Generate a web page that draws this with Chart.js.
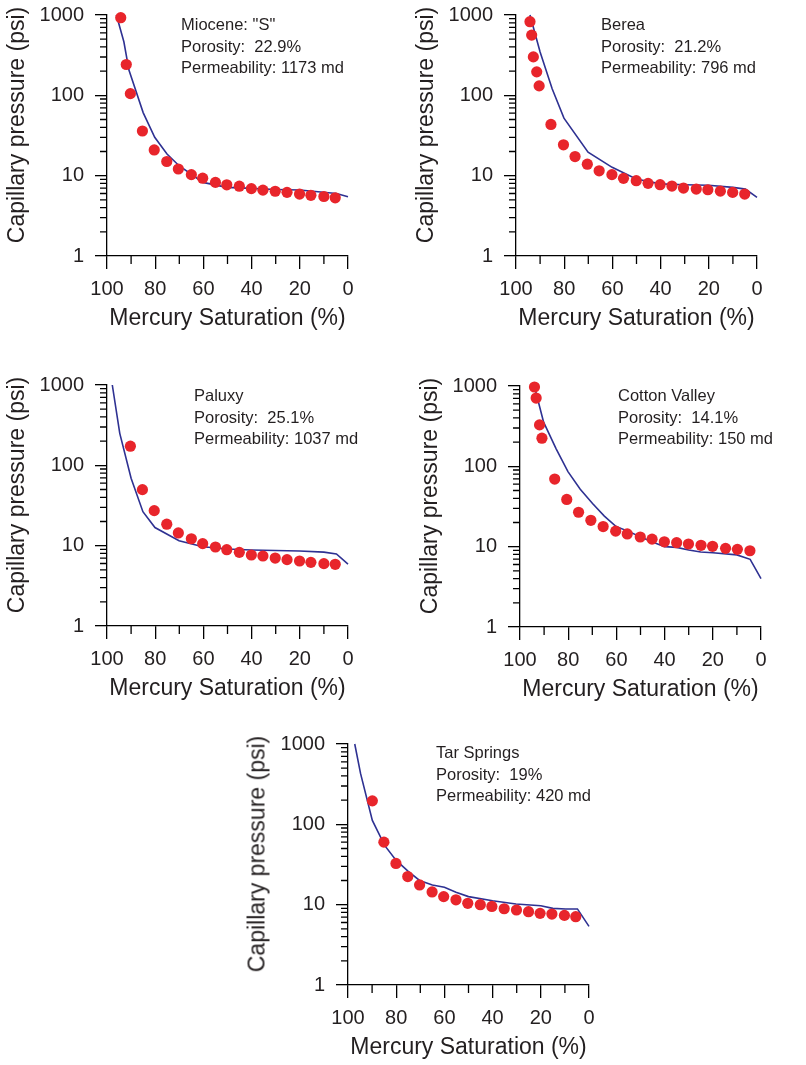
<!DOCTYPE html>
<html>
<head>
<meta charset="utf-8">
<script src="https://cdn.jsdelivr.net/npm/chart.js@4.4.1/dist/chart.umd.min.js"></script>
<style>
  body { margin: 0; background: #fff; width: 806px; height: 1065px; position: relative; overflow: hidden;
         font-family: "Liberation Sans", Arial, Helvetica, sans-serif; }
  canvas { position: absolute; }
  .note { position: absolute; font-size: 16.5px; line-height: 21.5px; color: #231f20; white-space: pre; }
  .ytitle { position: absolute; font-size: 23px; line-height: 23px; color: #231f20; white-space: nowrap;
            transform: translate(-50%, -50%) rotate(-90deg); }
</style>
</head>
<body>
<canvas id="c1" width="360" height="336"></canvas>
<canvas id="c2" width="360" height="336"></canvas>
<canvas id="c3" width="360" height="336"></canvas>
<canvas id="c4" width="360" height="336"></canvas>
<canvas id="c5" width="360" height="336"></canvas>

<script>
// axis ticks
const saturationTicks = [0, 20, 40, 60, 80, 100];
const saturationMinor = [10, 30, 50, 70, 90];
const pressureTicks = [1, 10, 100, 1000];
const pressureMinor = [1, 10, 100].flatMap(d => [2, 3, 4, 5, 6, 7, 8, 9].map(m => m * d));

// sample names / properties
const sampleNames = ['Miocene: "S"', 'Berea', 'Paluxy', 'Cotton Valley', 'Tar Springs'];
const porosity = ['22.9%', '21.2%', '25.1%', '14.1%', '19%'];
const permeability = ['1173 md', '796 md', '1037 md', '150 md', '420 md'];

// Miocene "S"
const mioceneSat = [94.3, 92, 90.3, 85.3, 80.4, 75.2, 70.4, 65, 60.3, 55, 50.3, 45.1, 40.1, 35.3, 30.2, 25.3, 20.1, 15.4, 10, 5.3];
const mioceneSatPc = [926, 242, 105, 36, 20.9, 15, 12.1, 10.3, 9.3, 8.25, 7.7, 7.4, 6.9, 6.6, 6.4, 6.2, 5.9, 5.7, 5.5, 5.3];
const mioceneModelSat = [96.1, 93, 90.9, 85, 80.2, 75.1, 70.1, 60.2, 50.2, 40.1, 30.2, 20.1, 4.8, 0];
const mioceneModelPc = [1000, 464, 206, 61, 30, 18.6, 13.3, 8.25, 7.15, 6.95, 6.74, 6.62, 6.0, 5.47];

// Berea
const bereaSat = [94.2, 93.5, 92.8, 91.4, 90.4, 85.5, 80.3, 75.5, 70.4, 65.5, 60.2, 55.4, 50.1, 45.2, 40.2, 35.3, 30.5, 25.2, 20.4, 15.2, 10.1, 5.1];
const bereaPc = [826, 562, 301, 196, 131, 43.4, 24.2, 17.3, 13.9, 11.5, 10.3, 9.26, 8.66, 8.02, 7.72, 7.42, 7.01, 6.81, 6.68, 6.42, 6.19, 5.9];
const bereaModelSat = [94.2, 90, 85, 80.1, 70.1, 60.1, 50.1, 40.2, 30.2, 20.1, 10, 4.8, 0];
const bereaModelPc = [1000, 347, 121, 52, 19.6, 12.7, 9.1, 7.9, 7.7, 7.6, 7.15, 6.8, 5.36];

// Paluxy
const paluxySat = [90.3, 85.3, 80.4, 75.2, 70.4, 65, 60.3, 55, 50.3, 45.1, 40.1, 35.3, 30.2, 25.3, 20.1, 15.4, 10, 5.3];
const paluxyPc = [173, 49.8, 27.3, 18.5, 14.4, 12.2, 10.6, 9.62, 8.91, 8.26, 7.65, 7.44, 7.01, 6.7, 6.44, 6.2, 5.97, 5.86];
const paluxyModelSat = [97.8, 94.7, 90, 85.1, 80.1, 70.1, 60.2, 50.2, 40.1, 30.2, 20.1, 10, 4.8, 0];
const paluxyModelPc = [1000, 250, 69, 26.5, 16.8, 11.5, 9.7, 9.1, 8.85, 8.7, 8.6, 8.3, 7.9, 5.9];

// Cotton Valley
const cottonSat = [94, 93.3, 91.9, 90.9, 85.6, 80.6, 75.7, 70.6, 65.5, 60.3, 55.5, 50.1, 45.2, 40.1, 35, 30.1, 24.9, 20.1, 14.7, 9.8, 4.6];
const cottonPc = [972, 708, 328, 224, 69.5, 38.7, 26.8, 21.3, 17.8, 15.6, 14.4, 13.2, 12.4, 11.5, 11.2, 10.8, 10.4, 10.1, 9.53, 9.26, 8.9];
const cottonModelSat = [93.8, 90.2, 85, 80.1, 75, 69.9, 65, 60.1, 55, 49.9, 45, 40, 35, 30, 25, 20, 10, 4.5, 0];
const cottonModelPc = [930, 355, 165, 86, 52, 34.5, 24, 17.8, 15.5, 13.2, 11.4, 10, 9.8, 9.1, 8.6, 8.4, 7.9, 6.95, 4];

// Tar Springs
const tarSat = [89.9, 85.1, 80.1, 75.2, 70.3, 65.1, 60.3, 55.2, 50.3, 45.1, 40.3, 35.2, 30.1, 25.1, 20.3, 15.4, 10.2, 5.5];
const tarPc = [196, 60, 32.6, 22.4, 17.6, 14.4, 12.6, 11.5, 10.4, 10, 9.5, 8.9, 8.58, 8.18, 7.8, 7.64, 7.35, 7.08];
const tarModelSat = [97.2, 94.8, 89.9, 84.8, 80, 75, 70.3, 65, 60, 55.2, 50, 40, 30.3, 20, 15, 9.7, 4.8, 0];
const tarModelPc = [1000, 430, 112, 54.6, 35.5, 26, 20, 17.6, 16.5, 14.3, 12.6, 11.2, 10.2, 9.7, 9.0, 8.85, 8.85, 5.36];

const FONT = '"Liberation Sans", Arial, Helvetica, sans-serif';
const TEXT = '#231f20';
const AXIS = '#000';

// short minor ticks, drawn outward from the axes
const minorTicks = {
  id: 'minorTicks',
  afterDraw(chart) {
    const { ctx, scales: { x, y } } = chart;
    ctx.save();
    ctx.strokeStyle = AXIS;
    ctx.lineWidth = 1.3;
    ctx.beginPath();
    pressureMinor.forEach(v => {
      const py = y.getPixelForValue(v);
      ctx.moveTo(y.right, py);
      ctx.lineTo(y.right - 7, py);
    });
    saturationMinor.forEach(v => {
      const px = x.getPixelForValue(v);
      ctx.moveTo(px, x.top);
      ctx.lineTo(px, x.top + 8);
    });
    ctx.stroke();
    ctx.restore();
  }
};

function pairs(xs, ys) {
  return xs.map((v, i) => ({ x: v, y: ys[i] }));
}

function makePanel(id, sat, pc, modelSat, modelPc) {
  return new Chart(document.getElementById(id), {
    type: 'scatter',
    data: {
      datasets: [
        {
          data: pairs(sat, pc),
          showLine: false,
          pointRadius: 5.6,
          pointBackgroundColor: '#e8252b',
          pointBorderWidth: 0,
          clip: false
        },
        {
          data: pairs(modelSat, modelPc),
          showLine: true,
          borderColor: '#2e3192',
          borderWidth: 1.6,
          pointRadius: 0,
          tension: 0,
          clip: false
        }
      ]
    },
    options: {
      responsive: false,
      animation: false,
      events: [],
      layout: { padding: { left: 0, top: 15, right: 12, bottom: 0 } },
      plugins: { legend: { display: false }, tooltip: { enabled: false } },
      scales: {
        x: {
          type: 'linear',
          min: 0,
          max: 100,
          reverse: true,
          afterBuildTicks: s => { s.ticks = saturationTicks.map(v => ({ value: v })); },
          afterFit: s => { s.height = 80; s.paddingLeft = 0; s.paddingRight = 0; },
          border: { display: true, color: AXIS, width: 1.3 },
          grid: { drawOnChartArea: false, drawTicks: true, tickLength: 13, color: AXIS, lineWidth: 1.3 },
          ticks: {
            padding: 8,
            color: TEXT,
            font: { family: FONT, size: 20 },
            maxRotation: 0,
            autoSkip: false,
            callback: v => String(v)
          },
          title: {
            display: true,
            text: 'Mercury Saturation (%)',
            color: TEXT,
            font: { family: FONT, size: 23, lineHeight: 1 },
            padding: { top: 0, bottom: 5.5 }
          }
        },
        y: {
          type: 'logarithmic',
          min: 1,
          max: 1000,
          afterBuildTicks: s => { s.ticks = pressureTicks.map(v => ({ value: v })); },
          afterFit: s => { s.width = 107; s.paddingTop = 0; s.paddingBottom = 0; },
          border: { display: true, color: AXIS, width: 1.3 },
          grid: { drawOnChartArea: false, drawTicks: true, tickLength: 12, color: AXIS, lineWidth: 1.3 },
          ticks: {
            padding: 11,
            color: TEXT,
            font: { family: FONT, size: 20 },
            autoSkip: false,
            callback: v => String(v)
          },
          title: { display: false }
        }
      }
    },
    plugins: [minorTicks]
  });
}

// canvas placement and annotation placement for each panel
const panelPos = [
  { left: 0, top: 0, noteLeft: 181, noteTop: 14 },
  { left: 409, top: 0, noteLeft: 601, noteTop: 14 },
  { left: 0, top: 370, noteLeft: 194, noteTop: 385 },
  { left: 413, top: 371, noteLeft: 618, noteTop: 385 },
  { left: 241, top: 729, noteLeft: 436, noteTop: 742 }
];

const panelData = [
  [mioceneSat, mioceneSatPc, mioceneModelSat, mioceneModelPc],
  [bereaSat, bereaPc, bereaModelSat, bereaModelPc],
  [paluxySat, paluxyPc, paluxyModelSat, paluxyModelPc],
  [cottonSat, cottonPc, cottonModelSat, cottonModelPc],
  [tarSat, tarPc, tarModelSat, tarModelPc]
];

panelPos.forEach((p, i) => {
  const cv = document.getElementById('c' + (i + 1));
  cv.style.left = p.left + 'px';
  cv.style.top = p.top + 'px';
  const chart = makePanel('c' + (i + 1), ...panelData[i]);

  const note = document.createElement('div');
  note.className = 'note';
  note.style.left = p.noteLeft + 'px';
  note.style.top = p.noteTop + 'px';
  note.textContent = sampleNames[i] + '\nPorosity:  ' + porosity[i] + '\nPermeability: ' + permeability[i];
  document.body.appendChild(note);

  // y-axis title, placed from the chart's own area
  const area = chart.chartArea;
  const yt = document.createElement('div');
  yt.className = 'ytitle';
  yt.textContent = 'Capillary pressure (psi)';
  yt.style.left = (p.left + area.left - 91) + 'px';
  yt.style.top = (p.top + (area.top + area.bottom) / 2 - 11) + 'px';
  document.body.appendChild(yt);
});
</script>
</body>
</html>
